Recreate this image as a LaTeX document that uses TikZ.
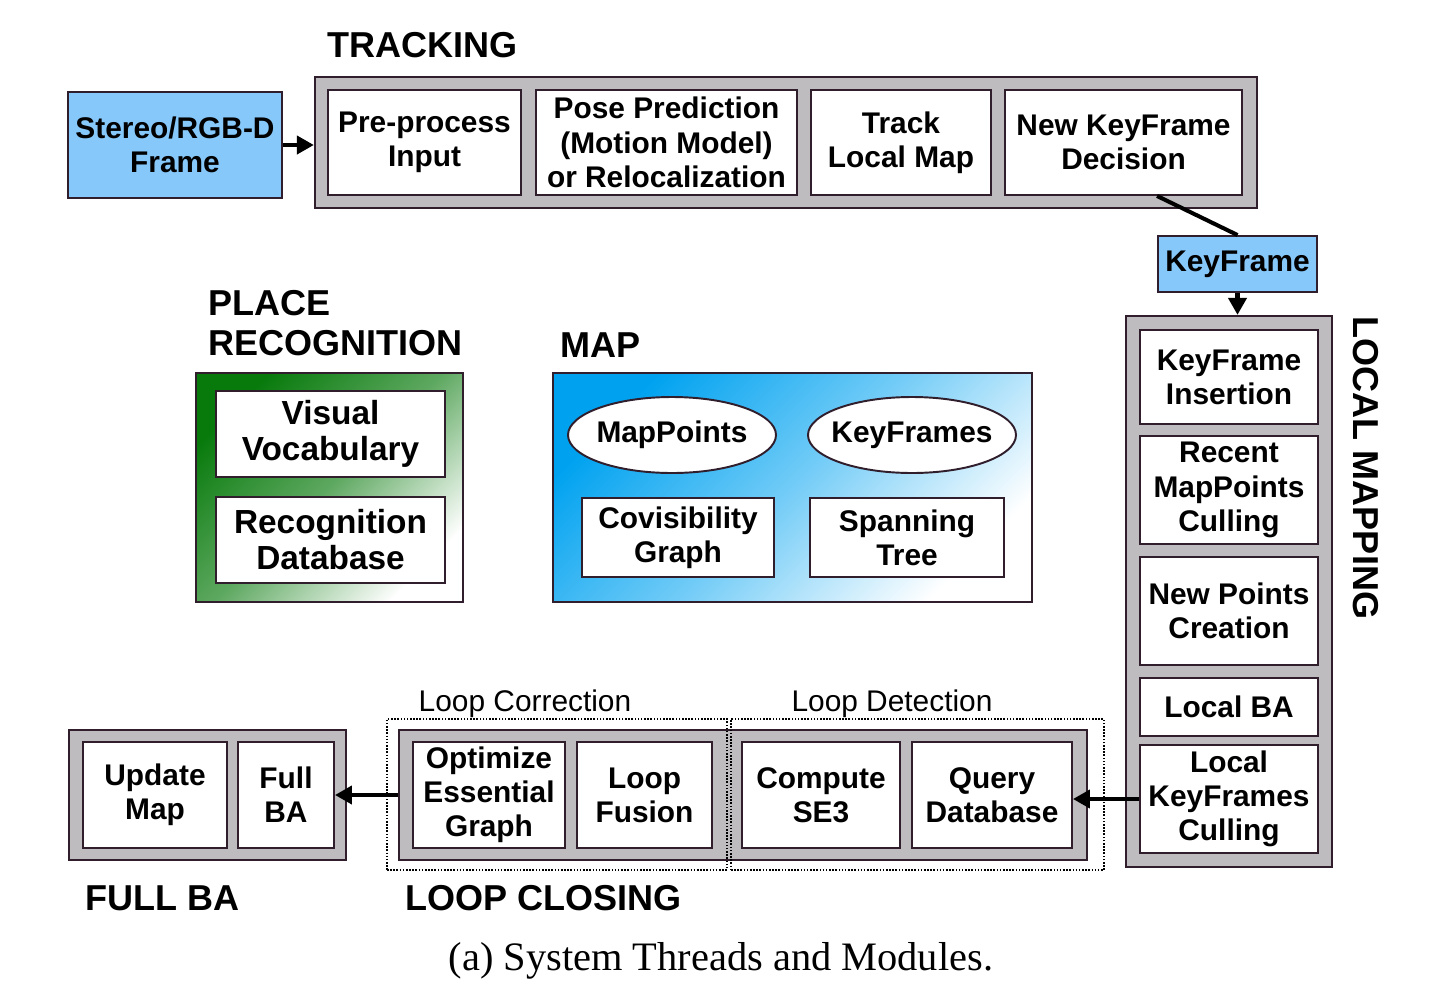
\documentclass[tikz,border=0pt]{standalone}
\usepackage{fontspec}
\setmainfont{Liberation Serif}
\setsansfont{Liberation Sans}
\usepackage{tikz}
\usetikzlibrary{arrows.meta,shapes.geometric}

\definecolor{grpgray}{RGB}{191,188,192}
\definecolor{edgedk}{RGB}{48,30,44}
\definecolor{skyblue}{RGB}{134,200,250}
\definecolor{mapblue}{RGB}{0,162,240}
\definecolor{recgreen}{RGB}{8,122,12}

\begin{document}
\begin{tikzpicture}[x=0.02cm,y=-0.02cm,
  every node/.style={font=\sffamily\bfseries\fontsize{17}{19.5}\selectfont,inner sep=0pt},
  wh/.style 2 args={minimum width=#1*0.02cm,minimum height=#2*0.02cm},
  blk/.style={draw=edgedk,line width=1.1pt,fill=white,align=center},
  grp/.style={draw=edgedk,line width=1.3pt,fill=grpgray},
  inp/.style={draw=edgedk,line width=1.1pt,fill=skyblue,align=center},
  oval/.style={ellipse,draw=edgedk,line width=1.1pt,fill=white,inner xsep=-5pt},
  ttl/.style={font=\sffamily\bfseries\fontsize{20.5}{22.8}\selectfont,align=left},
  sub/.style={font=\sffamily\fontsize{17}{19.5}\selectfont},
  zone/.style={draw,line width=0.9pt,dash pattern=on 0.9pt off 0.9pt},
  arr/.style={-{Triangle[length=3.4mm,width=3.6mm]},line width=2.3pt},
  ln/.style={line width=2.3pt}]
 \useasboundingbox (0,0) rectangle (1440,994);

 % tracking
 \node[inp,wh={214}{106}] (frame) at (175,145) {Stereo/RGB-D\\Frame};
 \node[grp,wh={942}{131}] (trk) at (786,142.5) {};
 \node[blk,wh={193}{105}] (pre) at (424.5,142.5) {Pre-process\\Input};
 \node[blk,wh={261}{105}] (pose) at (666.5,142.5) {Pose Prediction\\(Motion Model)\\or Relocalization};
 \node[blk,wh={180}{105}] (tlm) at (901,142.5) {Track\\Local Map};
 \node[blk,wh={237}{105}] (nkd) at (1123.5,142.5) {New KeyFrame\\Decision};
 \node[ttl,anchor=base west] (ttrk) at (327,57) {TRACKING};
 \node[inp,wh={159}{56}] (kf) at (1237.5,264) {KeyFrame};

 % local mapping
 \node[grp,wh={206}{551}] (lm) at (1229,591.5) {};
 \node[blk,wh={178}{94}] (kfi) at (1229,377) {KeyFrame\\Insertion};
 \node[blk,wh={178}{108}] (rmc) at (1229,490) {Recent\\MapPoints\\Culling};
 \node[blk,wh={178}{108}] (npc) at (1229,611) {New Points\\Creation};
 \node[blk,wh={178}{58}] (lba) at (1229,707) {Local BA};
 \node[blk,wh={178}{108}] (lkc) at (1229,799) {Local\\KeyFrames\\Culling};
 \node[ttl,rotate=-90] (tlm2) at (1366,468) {LOCAL MAPPING};

 % place recognition and map
 \node[draw=edgedk,line width=1.3pt,top color=recgreen,bottom color=white,middle color=recgreen!65,shading angle=45,wh={267}{229}] (pr) at (329.5,487.5) {};
 \node[blk,wh={229}{86},font=\sffamily\bfseries\fontsize{19}{20.5}\selectfont] (vv) at (330.5,434) {Visual\\Vocabulary};
 \node[blk,wh={229}{86},font=\sffamily\bfseries\fontsize{19}{20.5}\selectfont] (rdb) at (330.5,540) {Recognition\\Database};
 \node[ttl,anchor=north west] (tpr) at (208,290) {PLACE\\RECOGNITION};
 \node[draw=edgedk,line width=1.3pt,top color=mapblue,bottom color=white,middle color=mapblue!55,shading angle=45,wh={479}{229}] (map) at (792.5,487.5) {};
 \node[oval,wh={208}{76}] (mp) at (672,435) {MapPoints};
 \node[oval,wh={208}{76}] (kfs) at (912,435) {KeyFrames};
 \node[blk,wh={192}{79}] (cg) at (678,537.5) {Covisibility\\Graph};
 \node[blk,wh={194}{79}] (st) at (907,537.5) {Spanning\\Tree};
 \node[ttl,anchor=base west] (tmap) at (560,357) {MAP};

 % loop closing and full BA
 \node[grp,wh={277}{130}] (fb) at (207.5,795) {};
 \node[blk,wh={144}{106}] (um) at (155,795) {Update\\Map};
 \node[blk,wh={96}{106}] (fba) at (286,795) {Full\\BA};
 \node[ttl,anchor=base west] (tfb) at (85,910) {FULL BA};
 \node[grp,wh={688}{130}] (lc) at (743,795) {};
 \node[blk,wh={152}{106}] (oeg) at (489,795) {Optimize\\Essential\\Graph};
 \node[blk,wh={135}{106}] (lf) at (644.5,795) {Loop\\Fusion};
 \node[blk,wh={158}{106}] (cse) at (821,795) {Compute\\SE3};
 \node[blk,wh={160}{106}] (qdb) at (992,795) {Query\\Database};
 \node[zone,wh={340}{151}] (corr) at (557,794.5) {};
 \node[zone,wh={373}{151}] (det) at (917.5,794.5) {};
 \node[sub,anchor=base] (tcorr) at (525,711) {Loop Correction};
 \node[sub,anchor=base] (tdet) at (892,711) {Loop Detection};
 \node[ttl,anchor=base west] (tlc) at (405,910) {LOOP CLOSING};

 \draw[arr] (frame.east) -- (frame.east -| trk.west);
 \draw[ln] (nkd.south -| kf.west) -- (kf.north);
 \draw[arr] (kf.south) -- (kf.south |- lm.north);
 \draw[arr] (lkc.west) -- (lkc.west -| qdb.east);
 \draw[arr] (lc.west) -- (lc.west -| fba.east);

 \node[font=\rmfamily\fontsize{23}{27}\selectfont,anchor=base] (cap) at (721,970) {(a) System Threads and Modules.};
\end{tikzpicture}
\end{document}
